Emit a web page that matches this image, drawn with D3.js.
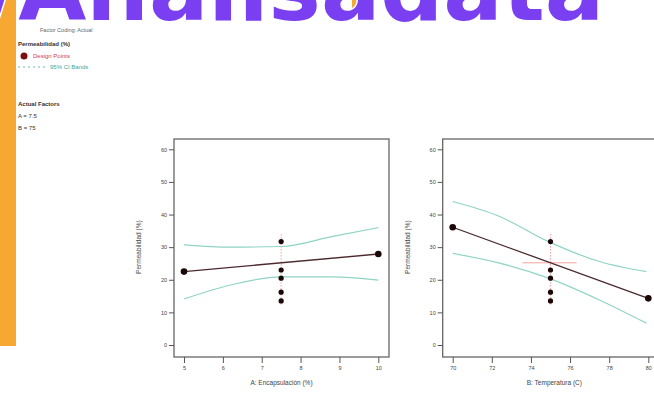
<!DOCTYPE html>
<html><head><meta charset="utf-8">
<script src="https://cdn.jsdelivr.net/npm/d3@7"></script>
<style>body{margin:0;background:#fff;}svg{display:block;font-family:"Liberation Sans",Arial,sans-serif;}</style>
</head><body><svg id="c" width="654" height="396"></svg>
<script>
// ---- data ----
const yTicks = [0, 10, 20, 30, 40, 50, 60];
const aTicks = [5, 6, 7, 8, 9, 10];
const bTicks = [70, 72, 74, 76, 78, 80];
const centerValues = [31.7, 23.0, 20.5, 16.2, 13.5];
// Plot A: Encapsulación
const aDesignX = [5, 10];
const aDesignY = [22.5, 27.9];
const aFitX = [5, 10];
const aFitY = [22.5, 27.9];
const aBandX = [5, 6.2, 7.5, 8.8, 10];
const aUpper = [30.7, 30.0, 30.2, 33.2, 36.0];
const aLower = [14.1, 18.4, 20.9, 20.9, 19.9];
// Plot B: Temperatura
const bDesignX = [70, 80];
const bDesignY = [36.1, 14.3];
const bFitX = [70, 80];
const bFitY = [36.1, 14.3];
const bBandX = [70, 72.4, 74.9, 77.5, 79.9];
const bUpper = [44.0, 39.4, 31.7, 25.6, 22.5];
const bLower = [28.1, 25.1, 20.5, 13.8, 6.7];
const legendTitle = "Permeabilidad (%)";
const factorLines = ["A = 7.5", "B = 75"];

const svg = d3.select("#c");
// background decorations (watermark)
svg.append("rect").attr("x",0).attr("y",0).attr("width",16).attr("height",346).attr("fill","#f7a833");
svg.append("rect").attr("x",352).attr("y",0).attr("width",18).attr("height",14).attr("fill","#f7a833");
svg.append("text").attr("x",40).attr("y",32).attr("font-size",5.5).attr("fill","#666").text("Factor Coding: Actual");
svg.append("text").attr("x",-14).attr("y",20).attr("font-size",88).attr("font-weight","bold")
  .attr("font-family","'DejaVu Sans',sans-serif")
  .attr("fill","#7b3ff2").attr("stroke","#fff").attr("stroke-width",3).attr("paint-order","stroke")
  .text("/Analisadata");

// legend
const lg = svg.append("g").attr("font-size",6);
lg.append("text").attr("x",18).attr("y",46).attr("font-weight","bold").attr("fill","#333").text(legendTitle);
lg.append("circle").attr("cx",24).attr("cy",56).attr("r",3.5).attr("fill","#7a1010");
lg.append("text").attr("x",33).attr("y",58).attr("fill","#d04040").text("Design Points");
lg.append("line").attr("x1",18).attr("x2",48).attr("y1",67).attr("y2",67).attr("stroke","#5cc0b0").attr("stroke-dasharray","2,3");
lg.append("text").attr("x",50).attr("y",69).attr("fill","#3aa89a").text("95% CI Bands");
lg.append("text").attr("x",18).attr("y",106).attr("font-weight","bold").attr("fill","#333").text("Actual Factors");
factorLines.forEach((t,i)=>lg.append("text").attr("x",18).attr("y",118+i*12).attr("fill","#333").text(t));

function panel(opts){
  const g = svg.append("g");
  const x = d3.scaleLinear().domain(opts.xDomain).range(opts.xRange);
  const y = d3.scaleLinear().domain([0,60]).range([345,149.3]);
  const left = opts.frame[0], right = opts.frame[1], top = 139, bottom = 357;
  g.append("rect").attr("x",left).attr("y",top).attr("width",right-left).attr("height",bottom-top)
    .attr("fill","none").attr("stroke","#666").attr("stroke-width",1.3);
  const ya = g.append("g").attr("transform",`translate(${left},0)`)
    .call(d3.axisLeft(y).tickValues(yTicks).tickSize(5).tickPadding(2));
  ya.select(".domain").remove();
  ya.selectAll("text").attr("font-size",5.5).attr("fill","#444");
  ya.selectAll("line").attr("stroke","#555");
  const xa = g.append("g").attr("transform",`translate(0,${bottom})`)
    .call(d3.axisBottom(x).tickValues(opts.ticks).tickFormat(d3.format("d")).tickSize(6).tickPadding(3));
  xa.select(".domain").remove();
  xa.selectAll("text").attr("font-size",5.5).attr("fill","#444");
  xa.selectAll("line").attr("stroke","#555");
  g.append("text").attr("x",(left+Math.min(right,654)) / 2 + opts.labelShift).attr("y",385)
    .attr("text-anchor","middle").attr("font-size",6.5).attr("fill","#444").text(opts.xLabel);
  g.append("text").attr("transform",`translate(${left-33},${y(30)}) rotate(-90)`)
    .attr("text-anchor","middle").attr("font-size",6.5).attr("fill","#444").text("Permeabilidad (%)");
  const line = d3.line().x(d=>x(d[0])).y(d=>y(d[1])).curve(d3.curveMonotoneX);
  g.append("path").attr("d",line(opts.bandX.map((v,i)=>[v,opts.upper[i]]))).attr("fill","none").attr("stroke","#8fd4c4").attr("stroke-width",1.2);
  g.append("path").attr("d",line(opts.bandX.map((v,i)=>[v,opts.lower[i]]))).attr("fill","none").attr("stroke","#8fd4c4").attr("stroke-width",1.2);
  // red crosshair at current setting
  const cx = x(opts.center), cy = y(25.2);
  g.append("line").attr("x1",cx).attr("x2",cx).attr("y1",y(34)).attr("y2",y(12)).attr("stroke","#f08a8a").attr("stroke-width",0.8).attr("stroke-dasharray","1.5,1.5");
  if (opts.hcross) g.append("line").attr("x1",cx-28).attr("x2",cx+26).attr("y1",cy).attr("y2",cy).attr("stroke","#f08a8a").attr("stroke-width",0.8);
  g.append("path").attr("d",d3.line().x(d=>x(d[0])).y(d=>y(d[1]))(opts.fitX.map((v,i)=>[v,opts.fitY[i]])))
    .attr("fill","none").attr("stroke","#4a2a2e").attr("stroke-width",1.3);
  opts.dx.forEach((v,i)=>g.append("circle").attr("cx",x(v)).attr("cy",y(opts.dy[i])).attr("r",3.3).attr("fill","#1a0808"));
  centerValues.forEach(v=>g.append("circle").attr("cx",cx).attr("cy",y(v)).attr("r",2.6).attr("fill","#1a0808"));
}
panel({xDomain:[5,10], xRange:[184,378.3], frame:[174,389], ticks:aTicks, xLabel:"A: Encapsulación (%)", labelShift:0,
  bandX:aBandX, upper:aUpper, lower:aLower, fitX:aFitX, fitY:aFitY, dx:aDesignX, dy:aDesignY, center:7.5, hcross:false});
panel({xDomain:[70,80], xRange:[452.7,648.3], frame:[442.7,660], ticks:bTicks, xLabel:"B: Temperatura (C)", labelShift:6,
  bandX:bBandX, upper:bUpper, lower:bLower, fitX:bFitX, fitY:bFitY, dx:bDesignX, dy:bDesignY, center:75, hcross:true});
</script></body></html>
